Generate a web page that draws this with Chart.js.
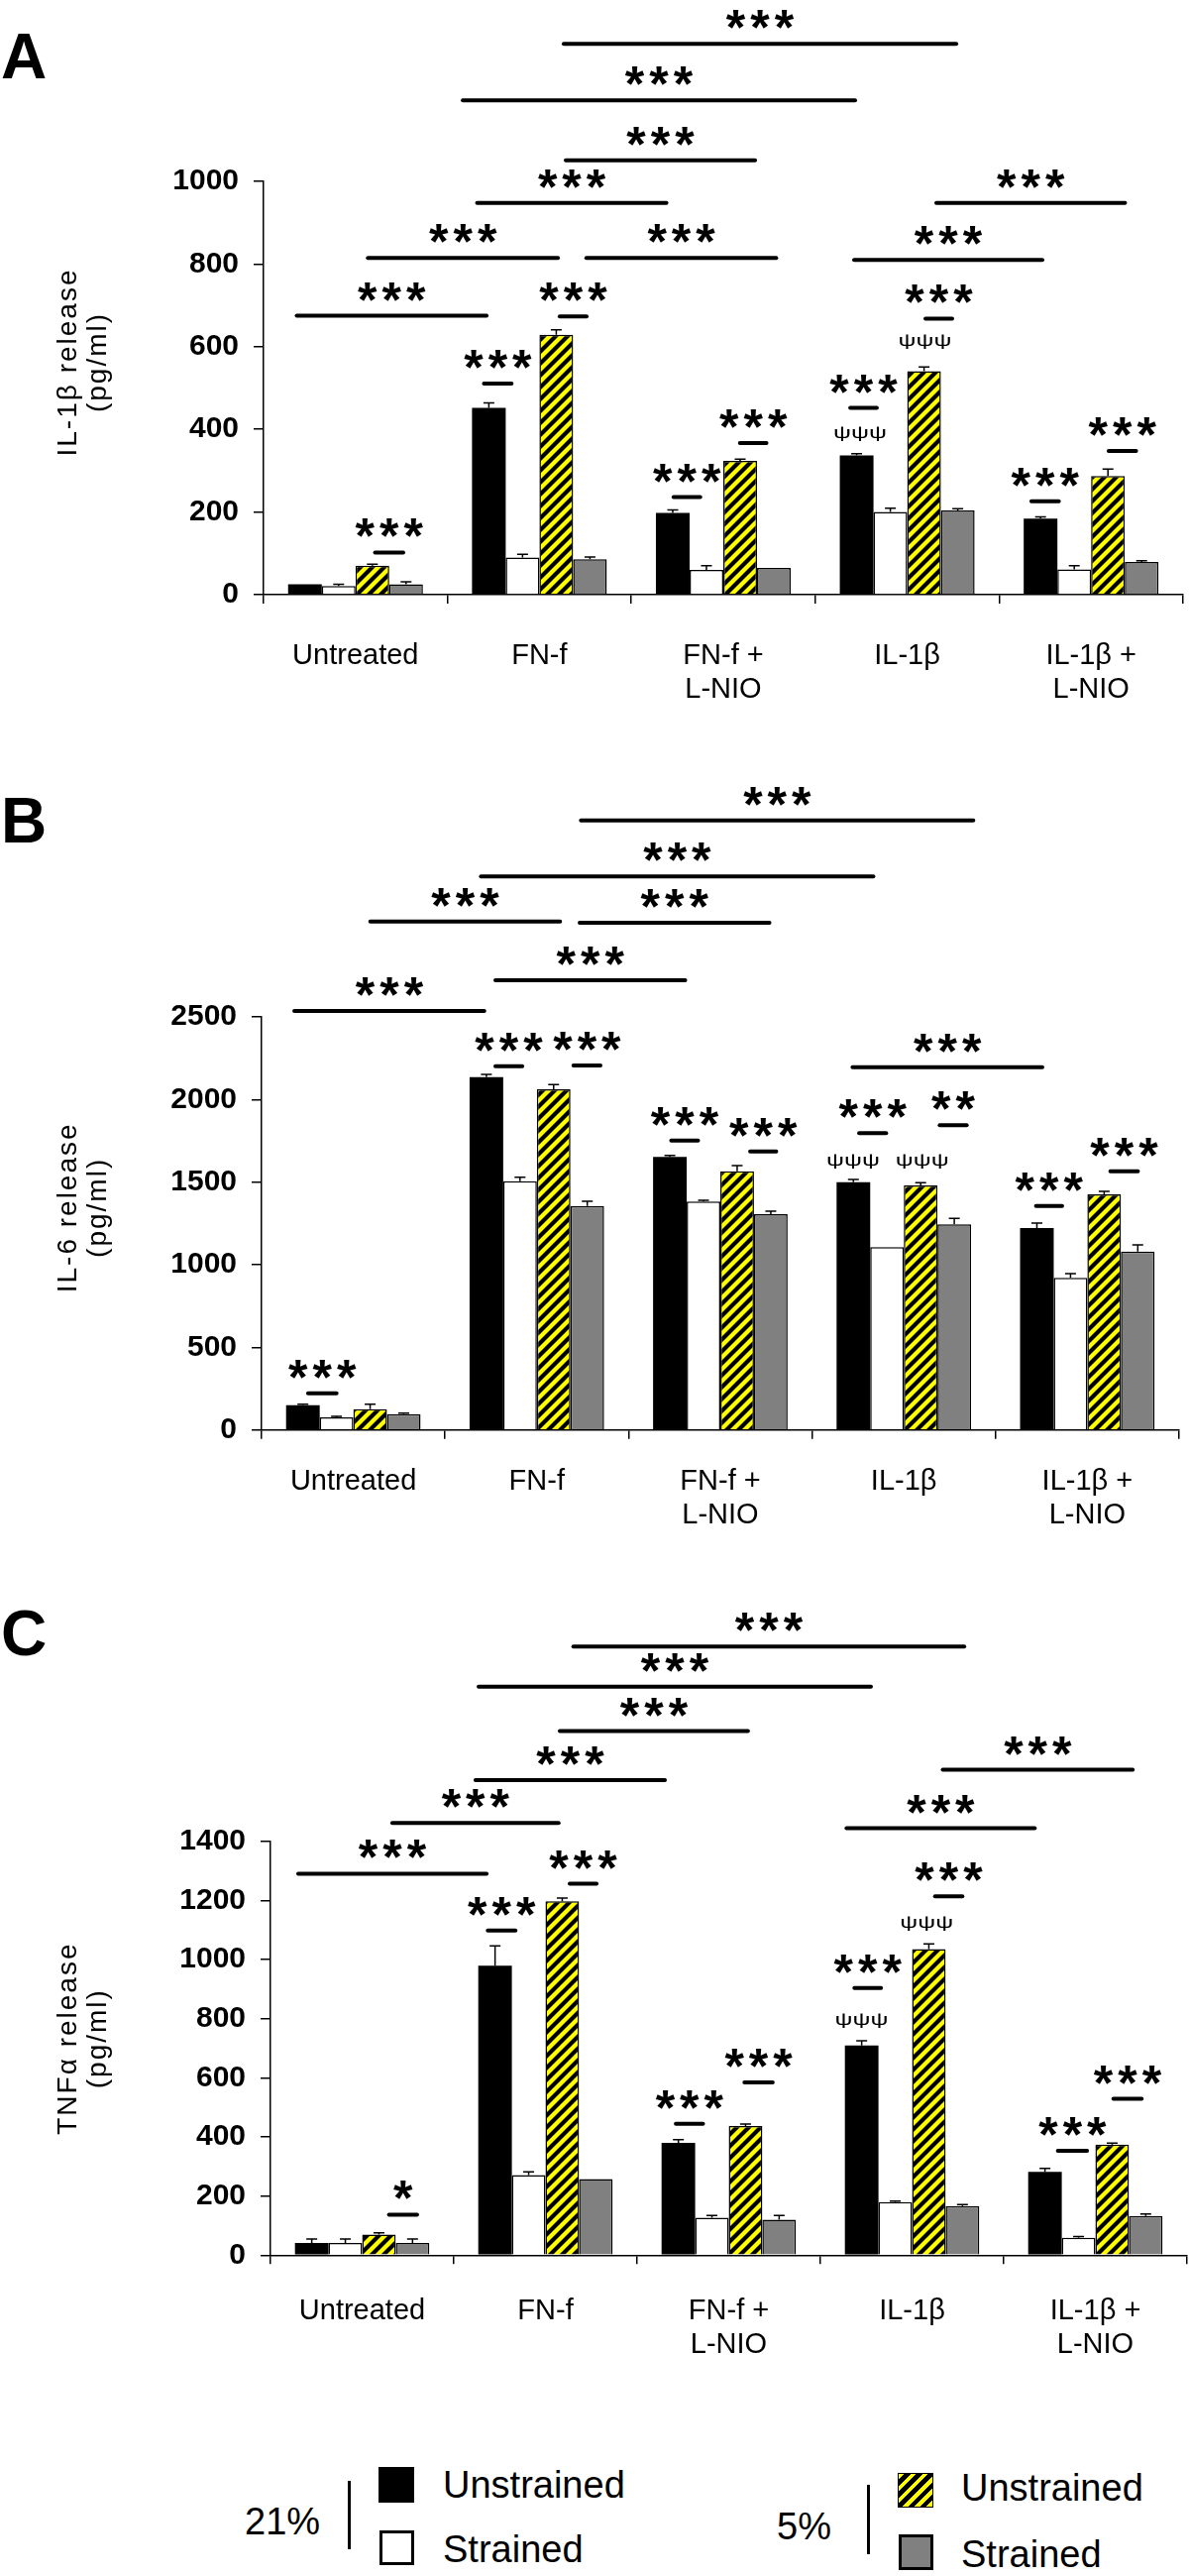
<!DOCTYPE html>
<html lang="en">
<head>
<meta charset="UTF-8" />
<title>Cytokine release</title>
<script src="https://cdn.jsdelivr.net/npm/chart.js"></script>
<style>
  body { margin: 0; background: #fff; font-family: "Liberation Sans", Arial, sans-serif; }
  #page { position: relative; width: 1200px; height: 2599px; overflow: hidden; }
  #page canvas { position: absolute; left: 0; }
  .lg { position: absolute; font-size: 38px; line-height: 38px; color: #000; white-space: nowrap; }
  .sq { position: absolute; box-sizing: border-box; }
  .vline { position: absolute; width: 3px; background: #000; }
</style>
</head>
<body>
<div id="page">
  <canvas id="chartA" width="1200" height="760" style="top:0"></canvas>
  <canvas id="chartB" width="1200" height="810" style="top:760px"></canvas>
  <canvas id="chartC" width="1200" height="850" style="top:1570px"></canvas>

  <div class="lg" style="left:247px; top:2525px">21%</div>
  <div class="vline" style="left:351px; top:2503px; height:69px"></div>
  <div class="sq" style="left:382px; top:2489px; width:36px; height:36px; background:#000"></div>
  <div class="lg" style="left:447px; top:2488px">Unstrained</div>
  <div class="sq" style="left:383px; top:2553px; width:35px; height:35px; border:3px solid #000; background:#fff"></div>
  <div class="lg" style="left:447px; top:2553px">Strained</div>

  <div class="lg" style="left:784px; top:2530px">5%</div>
  <div class="vline" style="left:875px; top:2507px; height:70px"></div>
  <div class="sq" style="left:906px; top:2495px; width:36px; height:35px; border:1px solid #000;
       background:repeating-linear-gradient(135deg, #ffff00 0 4.2px, #000 4.2px 8.5px)"></div>
  <div class="lg" style="left:970px; top:2491px">Unstrained</div>
  <div class="sq" style="left:907px; top:2557px; width:35px; height:36px; border:3px solid #000; background:#808080"></div>
  <div class="lg" style="left:970px; top:2558px">Strained</div>
</div>

<script>
  const categories = ["Untreated", "FN-f", ["FN-f +", "L-NIO"], "IL-1β", ["IL-1β +", "L-NIO"]];
  const seriesNames = ["21% Unstrained", "21% Strained", "5% Unstrained", "5% Strained"];

  // A: IL-1β release (pg/ml)
  const il1bTicks = [0, 200, 400, 600, 800, 1000];
  const il1b21Unstr = [25, 452, 198, 337, 184];
  const il1b21Str   = [21, 90, 60, 200, 61];
  const il1b5Unstr  = [70, 629, 324, 541, 287];
  const il1b5Str    = [25, 86, 65, 204, 79];
  const il1b21UnstrErr = [0, 12, 7, 4, 4];
  const il1b21StrErr   = [4, 8, 10, 9, 9];
  const il1b5UnstrErr  = [4, 12, 4, 10, 17];
  const il1b5StrErr    = [6, 5, 0, 4, 3];
  // [from, to, height, label] ; from/to in category units (0 = Untreated)
  const il1bSig = [
    [1.127, 3.272, 1333, "***"], [0.578, 2.722, 1196, "***"], [1.138, 2.178, 1051, "***"],
    [0.656, 1.696, 948, "***"], [0.062, 1.106, 815, "***"], [1.25, 2.293, 815, "***"],
    [-0.325, 0.718, 675, "***"], [2.706, 3.74, 810, "***"], [3.153, 4.19, 948, "***"],
    [0.101, 0.265, 102, "***"], [0.693, 0.854, 511, "***"], [1.105, 1.262, 673, "***"],
    [1.724, 1.88, 236, "***"], [2.085, 2.24, 367, "***"], [2.685, 2.84, 452, "***"],
    [3.094, 3.25, 668, "***"], [3.67, 3.83, 226, "***"], [4.09, 4.25, 348, "***"]
  ];
  const il1bPsi = [[2.743, 390], [3.096, 614]];

  // B: IL-6 release (pg/ml)
  const il6Ticks = [0, 500, 1000, 1500, 2000, 2500];
  const il621Unstr = [150, 2136, 1652, 1500, 1222];
  const il621Str   = [76, 1506, 1382, 1106, 920];
  const il65Unstr  = [126, 2062, 1566, 1480, 1426];
  const il65Str    = [96, 1356, 1306, 1244, 1080];
  const il621UnstrErr = [6, 16, 10, 16, 30];
  const il621StrErr   = [6, 24, 8, 0, 26];
  const il65UnstrErr  = [30, 28, 34, 16, 18];
  const il65StrErr    = [6, 28, 18, 36, 40];
  const il6Sig = [
    [1.235, 3.384, 3690, "***"], [0.69, 2.839, 3350, "***"], [0.087, 1.132, 3078, "***"],
    [1.228, 2.273, 3070, "***"], [0.769, 1.814, 2722, "***"], [-0.327, 0.719, 2536, "***"],
    [2.715, 3.76, 2196, "***"],
    [-0.252, -0.086, 222, "***"], [0.769, 0.926, 2202, "***"], [1.194, 1.352, 2206, "***"],
    [1.727, 1.884, 1752, "***"], [2.157, 2.31, 1686, "***"], [2.751, 2.909, 1796, "***"],
    [3.19, 3.348, 1844, "**"], [3.715, 3.868, 1356, "***"], [4.12, 4.281, 1566, "***"]
  ];
  const il6Psi = [[2.724, 1626], [3.1, 1626]];

  // C: TNFα release (pg/ml)
  const tnfTicks = [0, 200, 400, 600, 800, 1000, 1200, 1400];
  const tnf21Unstr = [41, 980, 380, 710, 282];
  const tnf21Str   = [41, 271, 127, 180, 59];
  const tnf5Unstr  = [70, 1198, 437, 1036, 374];
  const tnf5Str    = [41, 258, 120, 166, 133];
  const tnf21UnstrErr = [14, 67, 11, 16, 12];
  const tnf21StrErr   = [14, 11, 7, 3, 4];
  const tnf5UnstrErr  = [6, 11, 7, 18, 5];
  const tnf5StrErr    = [14, 0, 14, 5, 6];
  const tnfSig = [
    [1.147, 3.29, 2060, "***"], [0.63, 2.781, 1924, "***"], [1.073, 2.11, 1774, "***"],
    [0.613, 1.657, 1608, "***"], [0.159, 1.077, 1463, "***"], [-0.354, 0.684, 1291, "***"],
    [2.637, 3.675, 1445, "***"], [3.162, 4.209, 1643, "***"],
    [0.141, 0.305, 137, "*"], [0.68, 0.842, 1099, "***"], [1.127, 1.284, 1257, "***"],
    [1.706, 1.865, 445, "***"], [2.08, 2.245, 585, "***"], [2.68, 2.836, 904, "***"],
    [3.12, 3.28, 1215, "***"], [3.79, 3.96, 353, "***"], [4.093, 4.258, 529, "***"]
  ];
  const tnfPsi = [[2.724, 794], [3.08, 1123]];

  const FONT = '"Liberation Sans", Arial, sans-serif';
  Chart.defaults.font.family = FONT;
  Chart.defaults.color = "#000";

  function hatchPattern() {
    const c = document.createElement("canvas");
    c.width = 12; c.height = 12;
    const g = c.getContext("2d");
    g.fillStyle = "#ffff00";
    g.fillRect(0, 0, 12, 12);
    g.strokeStyle = "#000";
    g.lineWidth = 4.2;
    g.beginPath();
    g.moveTo(-3, 3); g.lineTo(3, -3);
    g.moveTo(0, 12); g.lineTo(12, 0);
    g.moveTo(9, 15); g.lineTo(15, 9);
    g.stroke();
    return g.createPattern(c, "repeat");
  }
  const hatch = hatchPattern();

  // error bars, significance lines, psi marks, axis title, panel letter
  const marks = {
    id: "marks",
    afterDraw(chart, args, o) {
      const { ctx, scales: { x, y }, chartArea } = chart;
      ctx.save();

      ctx.strokeStyle = "#000";
      ctx.lineWidth = 1.5;
      chart.data.datasets.forEach((ds, di) => {
        chart.getDatasetMeta(di).data.forEach((bar, i) => {
          const e = ds.err[i];
          if (!e) return;
          const top = y.getPixelForValue(ds.data[i] + e);
          ctx.beginPath();
          ctx.moveTo(bar.x, bar.y);
          ctx.lineTo(bar.x, top);
          ctx.moveTo(bar.x - 5.5, top);
          ctx.lineTo(bar.x + 5.5, top);
          ctx.stroke();
        });
      });

      ctx.lineWidth = 4;
      ctx.lineCap = "round";
      ctx.fillStyle = "#000";
      ctx.font = "bold 50px " + FONT;
      ctx.letterSpacing = "5px";
      ctx.textAlign = "center";
      ctx.textBaseline = "alphabetic";
      o.sig.forEach(([a, b, v, label]) => {
        const x1 = x.getPixelForValue(a), x2 = x.getPixelForValue(b), py = y.getPixelForValue(v);
        ctx.beginPath();
        ctx.moveTo(x1 + 1, py);
        ctx.lineTo(x2 - 1, py);
        ctx.stroke();
        ctx.fillText(label, (x1 + x2) / 2 + 2.5, py + 1);
      });

      ctx.letterSpacing = "0px";
      ctx.font = "17px " + FONT;
      ctx.textBaseline = "middle";
      const pw = ctx.measureText("ψψψ").width;
      o.psi.forEach(([u, v]) => {
        ctx.save();
        ctx.translate(x.getPixelForValue(u), y.getPixelForValue(v));
        ctx.scale(54 / pw, 1);
        ctx.fillText("ψψψ", 0, 0);
        ctx.restore();
      });

      ctx.save();
      ctx.font = "28px " + FONT;
      ctx.letterSpacing = "2px";
      ctx.translate(69, (chartArea.top + chartArea.bottom) / 2 + o.titleShift);
      ctx.rotate(-Math.PI / 2);
      ctx.fillText(o.title[0], 0, 0);
      ctx.fillText(o.title[1], 0, 30);
      ctx.restore();

      ctx.font = "bold 64px " + FONT;
      ctx.textAlign = "left";
      ctx.textBaseline = "alphabetic";
      ctx.fillText(o.letter, 1, o.letterY);
      ctx.restore();
    }
  };

  function makeChart(id, p) {
    return new Chart(document.getElementById(id), {
      type: "bar",
      data: {
        labels: categories,
        datasets: [
          { label: seriesNames[0], data: p.vals[0], err: p.errs[0], backgroundColor: "#000", borderWidth: 0 },
          { label: seriesNames[1], data: p.vals[1], err: p.errs[1], backgroundColor: "#fff", borderColor: "#000", borderWidth: 1.5 },
          { label: seriesNames[2], data: p.vals[2], err: p.errs[2], backgroundColor: hatch, borderColor: "#000", borderWidth: 1.5 },
          { label: seriesNames[3], data: p.vals[3], err: p.errs[3], backgroundColor: "#808080", borderColor: "#000", borderWidth: 1.5 }
        ]
      },
      options: {
        responsive: false,
        animation: false,
        events: [],
        layout: { padding: { top: p.top, right: 1200 - p.right, left: 0, bottom: 0 } },
        datasets: { bar: { categoryPercentage: 0.733, barPercentage: 1 } },
        plugins: {
          legend: { display: false },
          tooltip: { enabled: false },
          marks: { sig: p.sig, psi: p.psi, title: p.title, titleShift: p.titleShift, letter: p.letter, letterY: p.letterY }
        },
        scales: {
          x: {
            grid: { offset: true, drawOnChartArea: false, color: "#000", lineWidth: 1.5, tickLength: 9 },
            border: { color: "#000", width: 1.5 },
            ticks: { color: "#000", font: { size: 29, lineHeight: 1.17 }, padding: p.xPad, maxRotation: 0, autoSkip: false },
            afterFit: s => { s.height = p.xH; }
          },
          y: {
            min: p.ticks[0],
            max: p.ticks[p.ticks.length - 1],
            ticks: {
              stepSize: p.ticks[1] - p.ticks[0],
              callback: v => String(v),
              color: "#000",
              font: { size: 30, weight: "bold" },
              padding: 15
            },
            grid: { drawOnChartArea: false, color: "#000", lineWidth: 1.5, tickLength: 10 },
            border: { color: "#000", width: 1.5 },
            afterFit: s => { s.width = p.left; }
          }
        }
      },
      plugins: [marks]
    });
  }

  makeChart("chartA", {
    vals: [il1b21Unstr, il1b21Str, il1b5Unstr, il1b5Str],
    errs: [il1b21UnstrErr, il1b21StrErr, il1b5UnstrErr, il1b5StrErr],
    ticks: il1bTicks, sig: il1bSig, psi: il1bPsi,
    title: ["IL-1β release", "(pg/ml)"], titleShift: -26,
    letter: "A", letterY: 79,
    top: 183, left: 266, right: 1194, xH: 160, xPad: 36
  });

  makeChart("chartB", {
    vals: [il621Unstr, il621Str, il65Unstr, il65Str],
    errs: [il621UnstrErr, il621StrErr, il65UnstrErr, il65StrErr],
    ticks: il6Ticks, sig: il6Sig, psi: il6Psi,
    title: ["IL-6 release", "(pg/ml)"], titleShift: -16,
    letter: "B", letterY: 90,
    top: 266, left: 264, right: 1190, xH: 127.3, xPad: 26
  });

  makeChart("chartC", {
    vals: [tnf21Unstr, tnf21Str, tnf5Unstr, tnf5Str],
    errs: [tnf21UnstrErr, tnf21StrErr, tnf5UnstrErr, tnf5StrErr],
    ticks: tnfTicks, sig: tnfSig, psi: tnfPsi,
    title: ["TNFα release", "(pg/ml)"], titleShift: -10,
    letter: "C", letterY: 100,
    top: 288, left: 273, right: 1198, xH: 144.7, xPad: 31
  });
</script>
</body>
</html>
